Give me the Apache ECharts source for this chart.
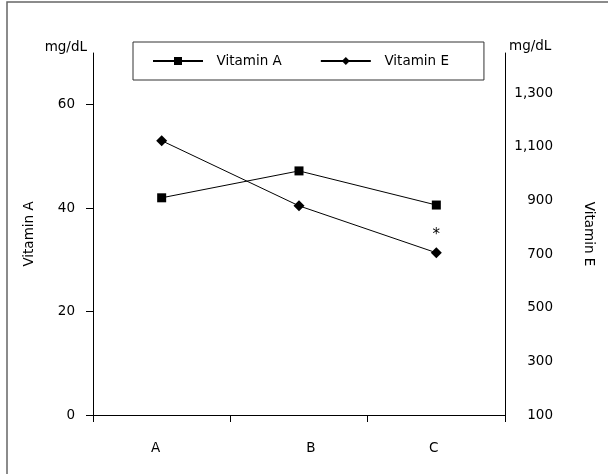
<!DOCTYPE html>
<html>
<head>
<meta charset="utf-8">
<script src="https://cdn.jsdelivr.net/npm/echarts@6/dist/echarts.min.js"></script>
<style>
  html, body { margin: 0; padding: 0; background: #fff; }
  #main { width: 608px; height: 474px; }
</style>
</head>
<body>
<div id="main"></div>
<script>
// 数据
const categories = ["A", "B", "C"];
const vitaminA = [42.0, 47.2, 40.6];
const vitaminE = [1123, 880, 705];
const leftTicks = [0, 20, 40, 60];
const rightTicks = [100, 300, 500, 700, 900, 1100, 1300];

const font = "DejaVu Sans";
const fs = 13.5;

var chart = echarts.init(document.getElementById("main"));

var option = {
  backgroundColor: "#fff",
  animation: false,
  textStyle: { fontFamily: font, color: "#000" },
  graphic: [
    {
      type: "rect",
      shape: { x: 7, y: 2, width: 620, height: 490 },
      style: { fill: "none", stroke: "#666", lineWidth: 1.5 },
      silent: true,
    },
    {
      type: "text",
      x: 87, y: 47,
      style: { text: "mg/dL", font: fs + "px " + font, fill: "#000", align: "right", verticalAlign: "middle" },
    },
    {
      type: "text",
      x: 509, y: 46,
      style: { text: "mg/dL", font: fs + "px " + font, fill: "#000", align: "left", verticalAlign: "middle" },
    },
  ],
  legend: {
    left: 133,
    top: 42,
    padding: [12, 35, 12, 19],
    itemGap: 38,
    itemWidth: 50,
    itemHeight: 10,
    borderColor: "#333",
    borderWidth: 1,
    textStyle: { fontFamily: font, fontSize: fs, color: "#000" },
    formatter: function (name) { return "  " + name; },
    data: ["Vitamin A", "Vitamin E"],
  },
  grid: { left: 93, right: 103, top: 53, bottom: 59 },
  xAxis: {
    type: "category",
    data: categories,
    boundaryGap: true,
    axisLine: { lineStyle: { color: "#000", width: 1 } },
    axisTick: { show: true, length: 7, lineStyle: { color: "#000" } },
    axisLabel: {
      margin: 26,
      fontSize: fs,
      color: "#000",
      fontFamily: font,
      // 标签位置微调
      formatter: function (v) { return "{" + v + "|" + v + "}"; },
      rich: {
        A: { fontSize: fs, fontFamily: font, color: "#000", padding: [0, 12, 0, 0] },
        B: { fontSize: fs, fontFamily: font, color: "#000", padding: [0, 0, 0, 24] },
        C: { fontSize: fs, fontFamily: font, color: "#000", padding: [0, 5, 0, 0] },
      },
    },
  },
  yAxis: [
    {
      type: "value",
      min: 0,
      max: 70,
      name: "Vitamin A",
      nameLocation: "middle",
      nameGap: 57,
      nameTextStyle: { fontSize: fs, color: "#000", fontFamily: font },
      splitLine: { show: false },
      axisLine: { show: true, lineStyle: { color: "#000", width: 1 } },
      axisTick: { show: true, length: 7, customValues: leftTicks, lineStyle: { color: "#000" } },
      axisLabel: { customValues: leftTicks, margin: 18, fontSize: fs, color: "#000", fontFamily: font },
    },
    {
      type: "value",
      min: 100,
      max: 1450,
      position: "right",
      name: "Vitamin E",
      nameLocation: "middle",
      nameRotate: -90,
      nameGap: 76,
      nameTextStyle: { fontSize: fs, color: "#000", fontFamily: font },
      splitLine: { show: false },
      axisLine: { show: true, lineStyle: { color: "#000", width: 1 } },
      axisTick: { show: false },
      axisLabel: {
        customValues: rightTicks,
        margin: 48,
        align: "right",
        fontSize: fs,
        color: "#000",
        fontFamily: font,
        formatter: function (v) { return v.toLocaleString("en-US"); },
      },
    },
  ],
  series: [
    {
      name: "Vitamin A",
      type: "line",
      yAxisIndex: 0,
      data: vitaminA,
      symbol: "rect",
      symbolSize: 9,
      itemStyle: { color: "#000" },
      lineStyle: { color: "#000", width: 1 },
    },
    {
      name: "Vitamin E",
      type: "line",
      yAxisIndex: 1,
      data: vitaminE.map(function (v, i) {
        if (i === 2) {
          return {
            value: v,
            label: { show: true, position: "top", distance: 5, formatter: "*", fontSize: 15, color: "#000" },
          };
        }
        return v;
      }),
      symbol: "diamond",
      symbolSize: 11,
      itemStyle: { color: "#000" },
      lineStyle: { color: "#000", width: 1 },
    },
  ],
};

chart.setOption(option);
</script>
</body>
</html>
